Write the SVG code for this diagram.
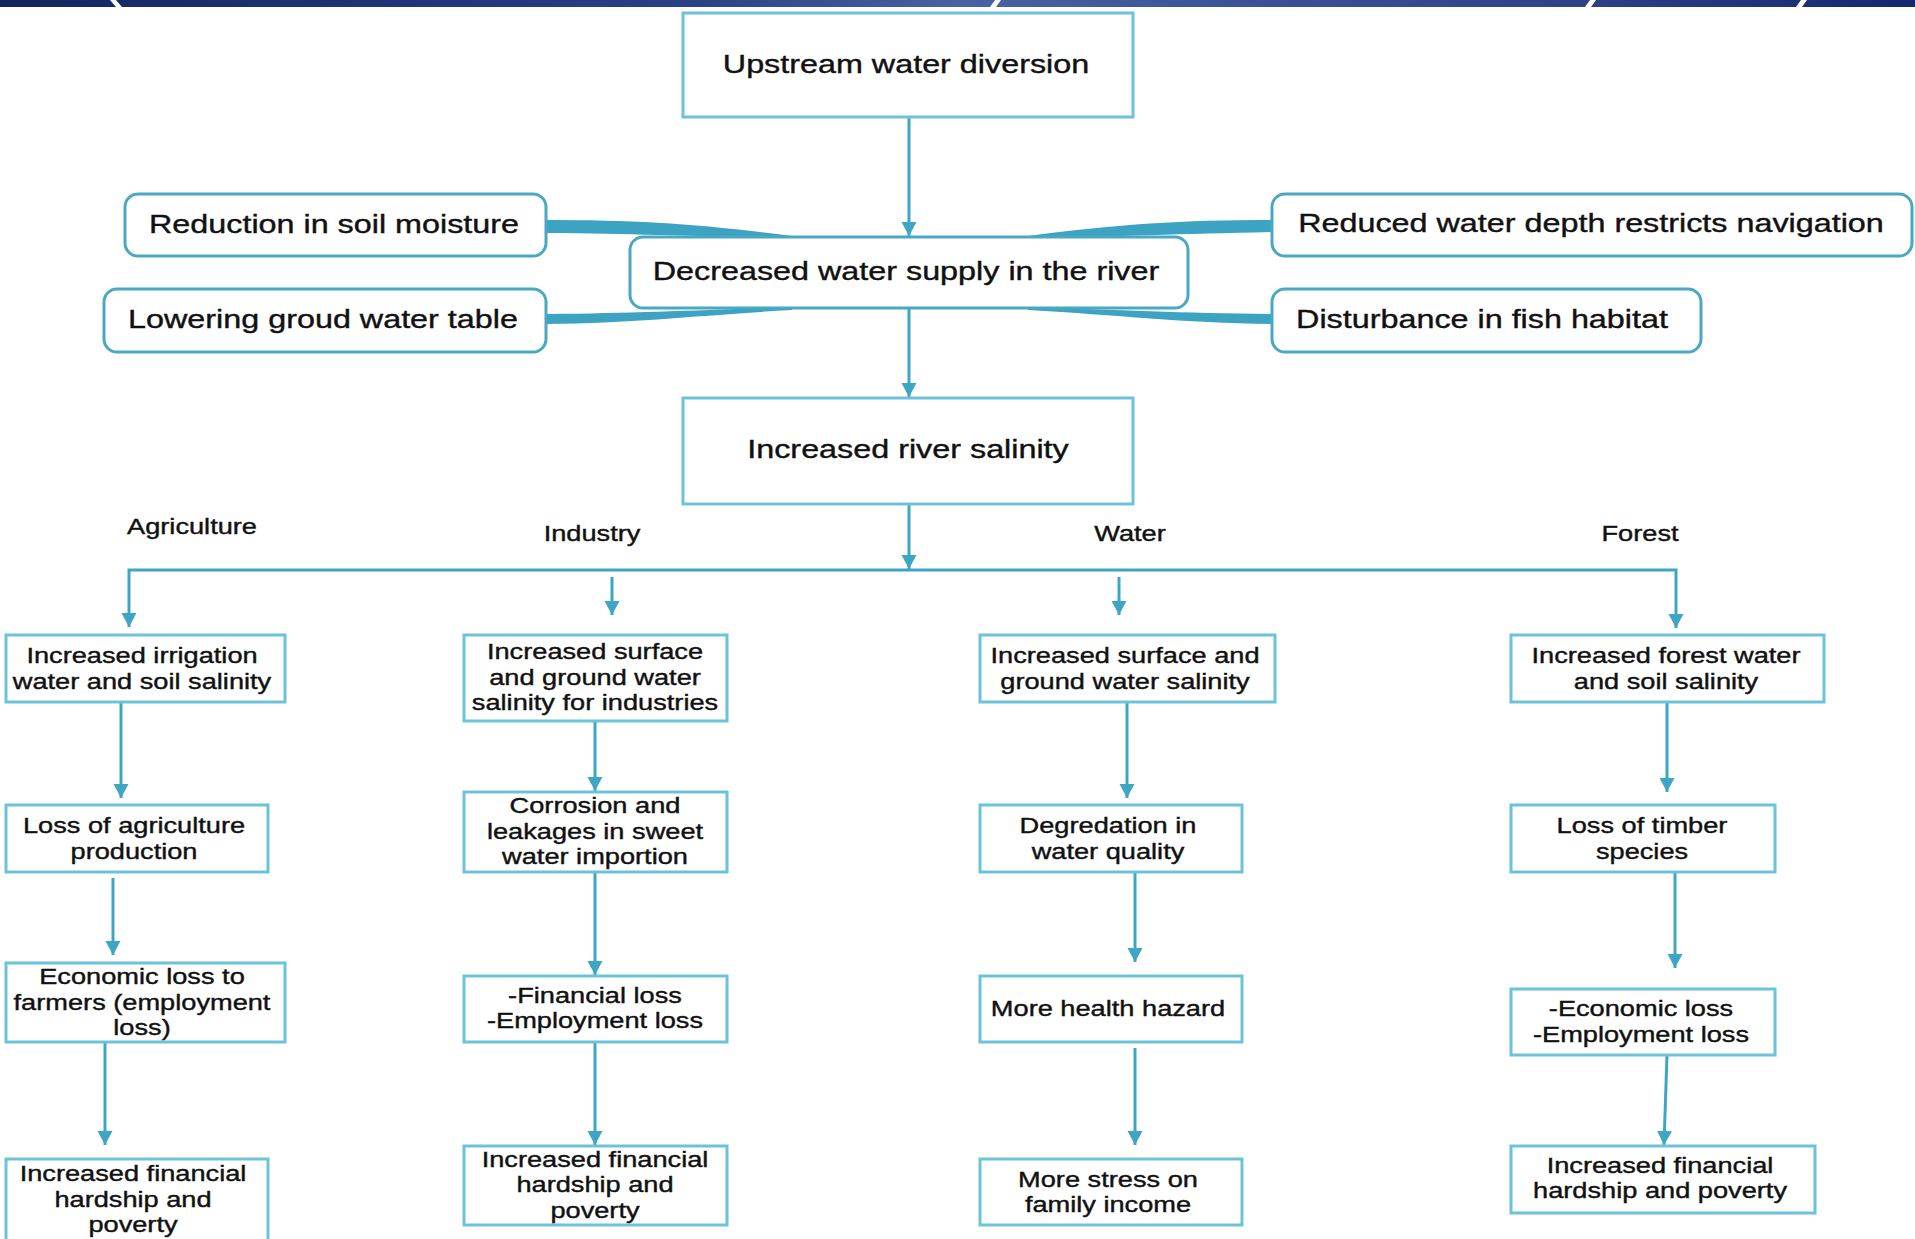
<svg xmlns="http://www.w3.org/2000/svg" width="1915" height="1239" viewBox="0 0 1915 1239">
<style>
.t{font-family:"Liberation Sans",Arial,sans-serif;fill:#111;stroke:#111;stroke-width:0.4;text-anchor:middle}
.big{font-size:26.5px}
.sm{font-size:22.3px}
.rb{fill:#fff;stroke:#6cc3d9;stroke-width:3}
.rr{fill:#fff;stroke:#4ba8c2;stroke-width:3}
.ln{fill:none;stroke:#3ea5c4;stroke-width:3}
.band{fill:#3ca3c2}
</style>
<defs>
<linearGradient id="bar" x1="0" y1="0" x2="1915" y2="0" gradientUnits="userSpaceOnUse">
<stop offset="0" stop-color="#132460"/>
<stop offset="0.36" stop-color="#2b4185"/>
<stop offset="0.5" stop-color="#4862a2"/>
<stop offset="0.83" stop-color="#2c4283"/>
<stop offset="1" stop-color="#15286a"/>
</linearGradient>
<marker id="ah" markerUnits="userSpaceOnUse" markerWidth="16" markerHeight="16" refX="14" refY="8" orient="auto">
<path d="M0,0.5 L14,8 L0,15.5 Z" fill="#3ea5c4"/>
</marker>
</defs>
<rect width="1915" height="1239" fill="#fff"/>
<g id="topbar">
<rect x="0" y="0" width="1915" height="7" fill="url(#bar)"/>
<path d="M110,0 H116 L122,7 H116 Z M995,0 H1001 L996,7 H990 Z M1590,0 H1596 L1591,7 H1585 Z M1801,0 H1807 L1802,7 H1796 Z" fill="#fff"/>
</g>
<g id="connectors">
<path class="ln" d="M909,117 V236" marker-end="url(#ah)"/>
<path class="ln" d="M909,309 V397" marker-end="url(#ah)"/>
<path class="ln" d="M909,504 V569" marker-end="url(#ah)"/>
<path class="ln" d="M909,570 H129 V627" marker-end="url(#ah)"/>
<path class="ln" d="M909,570 H1676 V628" marker-end="url(#ah)"/>
<path class="ln" d="M612,577 V615" marker-end="url(#ah)"/>
<path class="ln" d="M1119,577 V615" marker-end="url(#ah)"/>
<path class="ln" d="M121,702 V798" marker-end="url(#ah)"/>
<path class="ln" d="M113,878 V955" marker-end="url(#ah)"/>
<path class="ln" d="M105,1042 V1145" marker-end="url(#ah)"/>
<path class="ln" d="M595,721 V791" marker-end="url(#ah)"/>
<path class="ln" d="M595,872 V975" marker-end="url(#ah)"/>
<path class="ln" d="M595,1042 V1145" marker-end="url(#ah)"/>
<path class="ln" d="M1127,702 V798" marker-end="url(#ah)"/>
<path class="ln" d="M1135,872 V962" marker-end="url(#ah)"/>
<path class="ln" d="M1135,1048 V1145" marker-end="url(#ah)"/>
<path class="ln" d="M1667,702 V792" marker-end="url(#ah)"/>
<path class="ln" d="M1675,872 V968" marker-end="url(#ah)"/>
<path class="ln" d="M1667,1055 L1664,1145" marker-end="url(#ah)"/>
<path class="band" d="M546,220 C640,220 700,224 792,236 L792,239 C700,236 640,234 546,233 Z"/>
<path class="band" d="M1272,220 C1180,220 1120,224 1028,236 L1028,239 C1120,236 1180,234 1272,232 Z"/>
<path class="band" d="M546,314 C640,313 700,310 792,307 L792,310 C700,315 640,323 546,324 Z"/>
<path class="band" d="M1272,314 C1180,313 1120,310 1028,307 L1028,310 C1120,315 1180,323 1272,324 Z"/>
</g>
<g id="n-upstream">
<rect class="rb" x="683" y="13" width="450" height="104"/>
<text class="t big" transform="translate(906 0) scale(1.22 1)" x="0" y="73">Upstream water diversion</text>
</g>
<g id="n-decreased">
<rect class="rr" x="630" y="237" width="558" height="71" rx="13"/>
<text class="t big" transform="translate(906 0) scale(1.22 1)" x="0" y="280">Decreased water supply in the river</text>
</g>
<g id="n-soil">
<rect class="rr" x="125" y="194" width="421" height="62" rx="13"/>
<text class="t big" transform="translate(334 0) scale(1.22 1)" x="0" y="233">Reduction in soil moisture</text>
</g>
<g id="n-groundwater">
<rect class="rr" x="104" y="289" width="442" height="63" rx="13"/>
<text class="t big" transform="translate(323 0) scale(1.22 1)" x="0" y="328">Lowering groud water table</text>
</g>
<g id="n-navigation">
<rect class="rr" x="1272" y="194" width="640" height="62" rx="13"/>
<text class="t big" transform="translate(1591 0) scale(1.22 1)" x="0" y="232">Reduced water depth restricts navigation</text>
</g>
<g id="n-fish">
<rect class="rr" x="1272" y="289" width="429" height="63" rx="13"/>
<text class="t big" transform="translate(1482 0) scale(1.22 1)" x="0" y="328">Disturbance in fish habitat</text>
</g>
<g id="n-salinity">
<rect class="rb" x="683" y="398" width="450" height="106"/>
<text class="t big" transform="translate(908 0) scale(1.22 1)" x="0" y="458">Increased river salinity</text>
</g>
<g id="labels">
<text class="t sm" transform="translate(192 0) scale(1.22 1)" x="0" y="534">Agriculture</text>
<text class="t sm" transform="translate(592 0) scale(1.22 1)" x="0" y="541">Industry</text>
<text class="t sm" transform="translate(1130 0) scale(1.22 1)" x="0" y="541">Water</text>
<text class="t sm" transform="translate(1640 0) scale(1.22 1)" x="0" y="541">Forest</text>
</g>
<g id="n-agri1">
<rect class="rb" x="6" y="635" width="279" height="67"/>
<text class="t sm" transform="translate(142 0) scale(1.22 1)"><tspan x="0" y="663">Increased irrigation</tspan><tspan x="0" y="689">water and soil salinity</tspan></text>
</g>
<g id="n-agri2">
<rect class="rb" x="6" y="805" width="262" height="67"/>
<text class="t sm" transform="translate(134 0) scale(1.22 1)"><tspan x="0" y="833">Loss of agriculture</tspan><tspan x="0" y="859">production</tspan></text>
</g>
<g id="n-agri3">
<rect class="rb" x="6" y="963" width="279" height="79"/>
<text class="t sm" transform="translate(142 0) scale(1.22 1)"><tspan x="0" y="984">Economic loss to</tspan><tspan x="0" y="1010">farmers (employment</tspan><tspan x="0" y="1035">loss)</tspan></text>
</g>
<g id="n-agri4">
<rect class="rb" x="6" y="1159" width="262" height="82"/>
<text class="t sm" transform="translate(133 0) scale(1.22 1)"><tspan x="0" y="1181">Increased financial</tspan><tspan x="0" y="1207">hardship and</tspan><tspan x="0" y="1232">poverty</tspan></text>
</g>
<g id="n-ind1">
<rect class="rb" x="464" y="635" width="263" height="86"/>
<text class="t sm" transform="translate(595 0) scale(1.22 1)"><tspan x="0" y="659">Increased surface</tspan><tspan x="0" y="685">and ground water</tspan><tspan x="0" y="710">salinity for industries</tspan></text>
</g>
<g id="n-ind2">
<rect class="rb" x="464" y="792" width="263" height="80"/>
<text class="t sm" transform="translate(595 0) scale(1.22 1)"><tspan x="0" y="813">Corrosion and</tspan><tspan x="0" y="839">leakages in sweet</tspan><tspan x="0" y="864">water importion</tspan></text>
</g>
<g id="n-ind3">
<rect class="rb" x="464" y="976" width="263" height="66"/>
<text class="t sm" transform="translate(595 0) scale(1.22 1)"><tspan x="0" y="1003">-Financial loss</tspan><tspan x="0" y="1028">-Employment loss</tspan></text>
</g>
<g id="n-ind4">
<rect class="rb" x="464" y="1146" width="263" height="79"/>
<text class="t sm" transform="translate(595 0) scale(1.22 1)"><tspan x="0" y="1167">Increased financial</tspan><tspan x="0" y="1192">hardship and</tspan><tspan x="0" y="1218">poverty</tspan></text>
</g>
<g id="n-wat1">
<rect class="rb" x="980" y="635" width="295" height="67"/>
<text class="t sm" transform="translate(1125 0) scale(1.22 1)"><tspan x="0" y="663">Increased surface and</tspan><tspan x="0" y="689">ground water salinity</tspan></text>
</g>
<g id="n-wat2">
<rect class="rb" x="980" y="805" width="262" height="67"/>
<text class="t sm" transform="translate(1108 0) scale(1.22 1)"><tspan x="0" y="833">Degredation in</tspan><tspan x="0" y="859">water quality</tspan></text>
</g>
<g id="n-wat3">
<rect class="rb" x="980" y="976" width="262" height="66"/>
<text class="t sm" transform="translate(1108 0) scale(1.22 1)" x="0" y="1016">More health hazard</text>
</g>
<g id="n-wat4">
<rect class="rb" x="980" y="1159" width="262" height="66"/>
<text class="t sm" transform="translate(1108 0) scale(1.22 1)"><tspan x="0" y="1187">More stress on</tspan><tspan x="0" y="1212">family income</tspan></text>
</g>
<g id="n-for1">
<rect class="rb" x="1511" y="635" width="313" height="67"/>
<text class="t sm" transform="translate(1666 0) scale(1.22 1)"><tspan x="0" y="663">Increased forest water</tspan><tspan x="0" y="689">and soil salinity</tspan></text>
</g>
<g id="n-for2">
<rect class="rb" x="1511" y="805" width="264" height="67"/>
<text class="t sm" transform="translate(1642 0) scale(1.22 1)"><tspan x="0" y="833">Loss of timber</tspan><tspan x="0" y="859">species</tspan></text>
</g>
<g id="n-for3">
<rect class="rb" x="1511" y="989" width="264" height="66"/>
<text class="t sm" transform="translate(1641 0) scale(1.22 1)"><tspan x="0" y="1016">-Economic loss</tspan><tspan x="0" y="1042">-Employment loss</tspan></text>
</g>
<g id="n-for4">
<rect class="rb" x="1511" y="1146" width="304" height="67"/>
<text class="t sm" transform="translate(1660 0) scale(1.22 1)"><tspan x="0" y="1173">Increased financial</tspan><tspan x="0" y="1198">hardship and poverty</tspan></text>
</g>
</svg>
